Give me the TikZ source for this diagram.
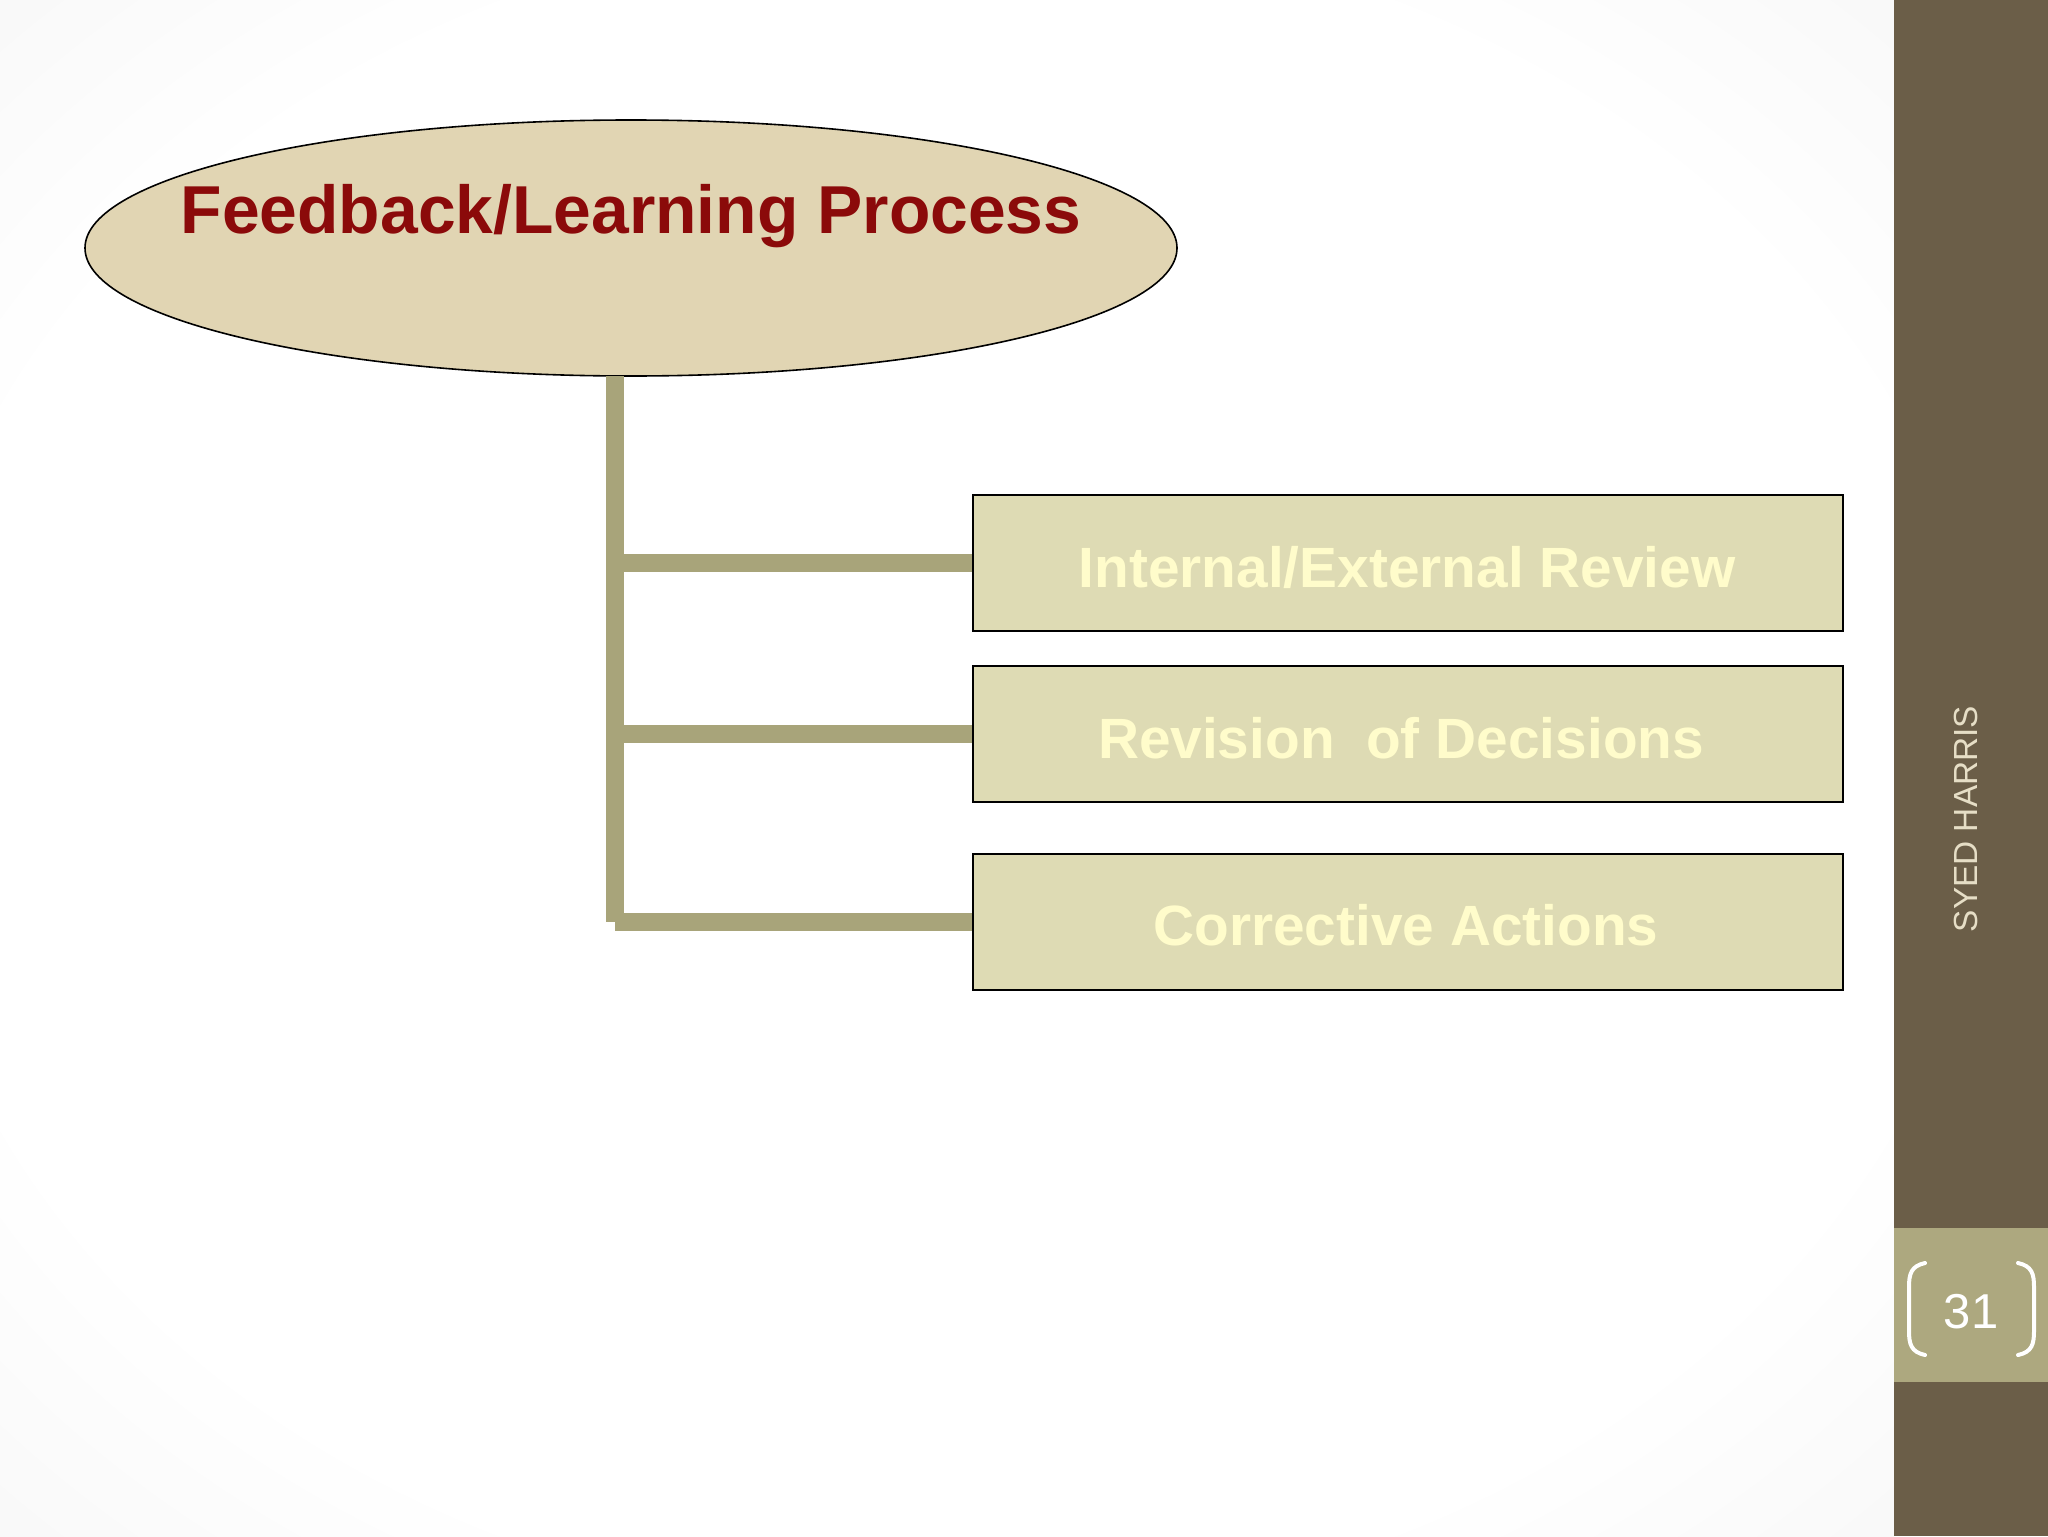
\documentclass[tikz,border=0pt]{standalone}
\usepackage{fontspec}
\setmainfont{Liberation Sans}
\usetikzlibrary{shapes.geometric}
\definecolor{ellfill}{HTML}{E1D5B3}
\definecolor{boxfill}{HTML}{DEDBB4}
\definecolor{boxtext}{HTML}{FFFCCB}
\definecolor{conncol}{HTML}{A8A47A}
\definecolor{titlecol}{HTML}{8B0A0A}
\definecolor{sidedark}{HTML}{6B5E48}
\definecolor{sideband}{HTML}{ADA87F}
\definecolor{sidetext}{HTML}{E6DEC6}
\pgfdeclareradialshading{vign}{\pgfpoint{0bp}{0bp}}{color(0bp)=(white); color(27bp)=(white); color(47bp)=(white!94!black); color(72bp)=(white!86!black)}
\tikzset{
  itembox/.style={draw=black, line width=1pt, fill=boxfill, minimum width=435pt, minimum height=68pt, inner sep=0pt},
  boxlabel/.style={text=boxtext, font=\bfseries\fontsize{28.4}{32}\selectfont, inner sep=0pt},
  conn/.style={draw=conncol, line width=9pt, line cap=butt},
  bracketline/.style={draw=white, line width=2pt, line cap=round},
}
\begin{document}
\begin{tikzpicture}[x=0.5pt, y=-0.5pt]
\useasboundingbox (0,0) rectangle (2048,1536);
% background
\shade[shading=vign] (0,0) rectangle (1894,1536);
% sidebar
\fill[sidedark] (1894,0) rectangle (2048,1536);
\fill[sideband] (1894,1228) rectangle (2048,1382);
\node[rotate=90, text=sidetext, font=\fontsize{16.7}{20}\selectfont, inner sep=0pt] (author) at (1966,819) {SYED HARRIS};
\node[text=white, font=\fontsize{24.5}{28}\selectfont, inner sep=0pt] (pagenum) at (1971,1312) {31};
\draw[bracketline] (1925,1263) .. controls (1911,1266) and (1909,1274) .. (1909,1287) -- (1909,1331) .. controls (1909,1344) and (1911,1352) .. (1925,1355);
\draw[bracketline] (2018,1263) .. controls (2032,1266) and (2034,1274) .. (2034,1287) -- (2034,1331) .. controls (2034,1344) and (2032,1352) .. (2018,1355);
% ellipse
\node[ellipse, draw=black, line width=0.8pt, fill=ellfill, minimum width=546pt, minimum height=128pt, inner sep=0pt] (fb) at (631,248) {};
\node[text=titlecol, font=\bfseries\fontsize{33.9}{38}\selectfont, inner sep=0pt] (fbtext) at (631,216) {Feedback/Learning Process};
% boxes
\node[itembox] (b1) at (1408,563) {};
\node[itembox] (b2) at (1408,734) {};
\node[itembox] (b3) at (1408,921.5) {};
\node[boxlabel] (t1) at (1407,567) {Internal/External Review};
\node[boxlabel] (t2) at (1401,738) {Revision\ \ of Decisions};
\node[boxlabel] (t3) at (1406,925) {Corrective Actions};
% connectors
\coordinate (top) at (615,376);
\coordinate (bot) at (615,921.5);
\draw[conn] (top) -- (bot);
\draw[conn] (bot) -- (b3.west);
\draw[conn] (top |- b1.west) -- (b1.west);
\draw[conn] (top |- b2.west) -- (b2.west);
\end{tikzpicture}
\end{document}
